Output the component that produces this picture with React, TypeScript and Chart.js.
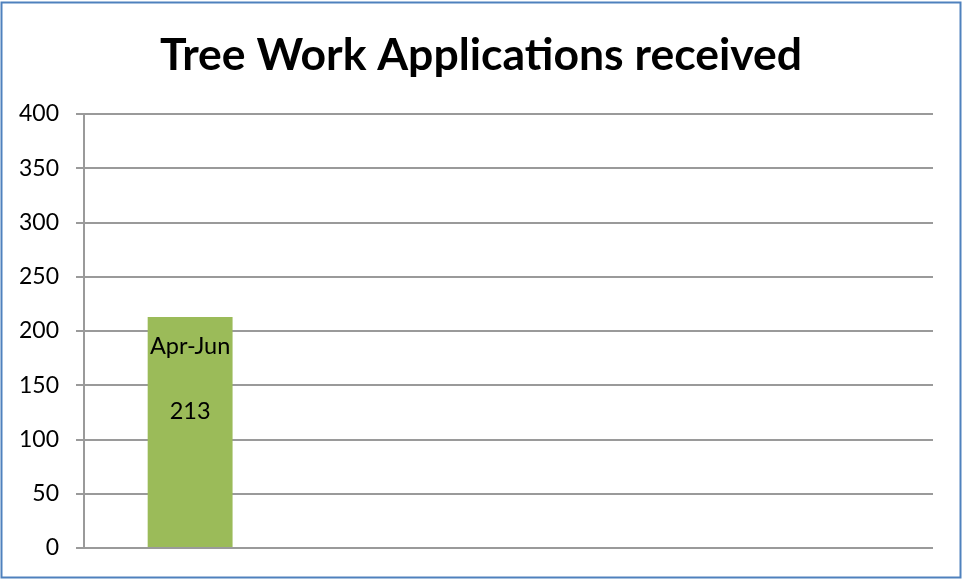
import React, { useEffect, useRef } from "react";
import { Chart, registerables } from "chart.js";

Chart.register(...registerables);

const categories = ["Apr-Jun", "Jul-Sep", "Oct-Dec", "Jan-Mar"];
const applications = [213, null, null, null];
const yTicks = [0, 50, 100, 150, 200, 250, 300, 350, 400];
const titleText = "Tree Work Applications received";

const FONT = "Lato, 'Open Sans', sans-serif";

const frame = {
  id: "frame",
  beforeDraw(chart: any) {
    const ctx = chart.ctx;
    ctx.save();
    ctx.fillStyle = "#ffffff";
    ctx.fillRect(0, 0, chart.width, chart.height);
    ctx.strokeStyle = "#4F81BD";
    ctx.lineWidth = 2;
    ctx.strokeRect(1.5, 2.5, chart.width - 3, chart.height - 4);
    ctx.fillStyle = "#000000";
    ctx.font = `bold 44.5px ${FONT}`;
    ctx.textAlign = "center";
    ctx.textBaseline = "alphabetic";
    ctx.fillText(titleText, chart.width / 2, 70);
    ctx.restore();
  },
};

const barLabels = {
  id: "barLabels",
  afterDatasetsDraw(chart: any) {
    const ctx = chart.ctx;
    const meta = chart.getDatasetMeta(0);
    ctx.save();
    ctx.fillStyle = "#000000";
    ctx.font = `23.5px ${FONT}`;
    ctx.textAlign = "center";
    ctx.textBaseline = "middle";
    meta.data.forEach((bar: any, i: number) => {
      const v = applications[i];
      if (v == null) return;
      ctx.fillText(categories[i], bar.x, bar.y + 30);
      ctx.fillText(String(v), bar.x, bar.y + 95);
    });
    ctx.restore();
  },
};

export default function App() {
  const ref = useRef<HTMLCanvasElement>(null);
  useEffect(() => {
    const chart = new Chart(ref.current!, {
      type: "bar",
      data: {
        labels: categories,
        datasets: [
          {
            data: applications as any,
            backgroundColor: "#9BBB59",
            categoryPercentage: 0.4,
            barPercentage: 1,
          },
        ],
      },
      options: {
        responsive: false,
        animation: false,
        layout: { padding: { left: 0, right: 29, top: 114, bottom: 31 } },
        plugins: {
          legend: { display: false },
          tooltip: { enabled: false },
          title: { display: false },
        },
        scales: {
          x: {
            display: false,
          },
          y: {
            min: 0,
            max: 400,
            afterFit(scale: any) {
              scale.width = 84;
            },
            afterBuildTicks(scale: any) {
              scale.ticks = yTicks.map((v) => ({ value: v }));
            },
            grid: { color: "#9a9a9a", lineWidth: 2, tickLength: 8 },
            border: { display: true, color: "#9a9a9a", width: 2 },
            ticks: {
              color: "#000000",
              padding: 17,
              font: { family: FONT, size: 23 },
            },
          },
        },
      },
      plugins: [frame, barLabels],
    });
    return () => chart.destroy();
  }, []);
  return (
    <div style={{ position: "absolute", left: 0, top: 0 }}>
      <canvas ref={ref} width={962} height={579} style={{ display: "block" }} />
    </div>
  );
}
